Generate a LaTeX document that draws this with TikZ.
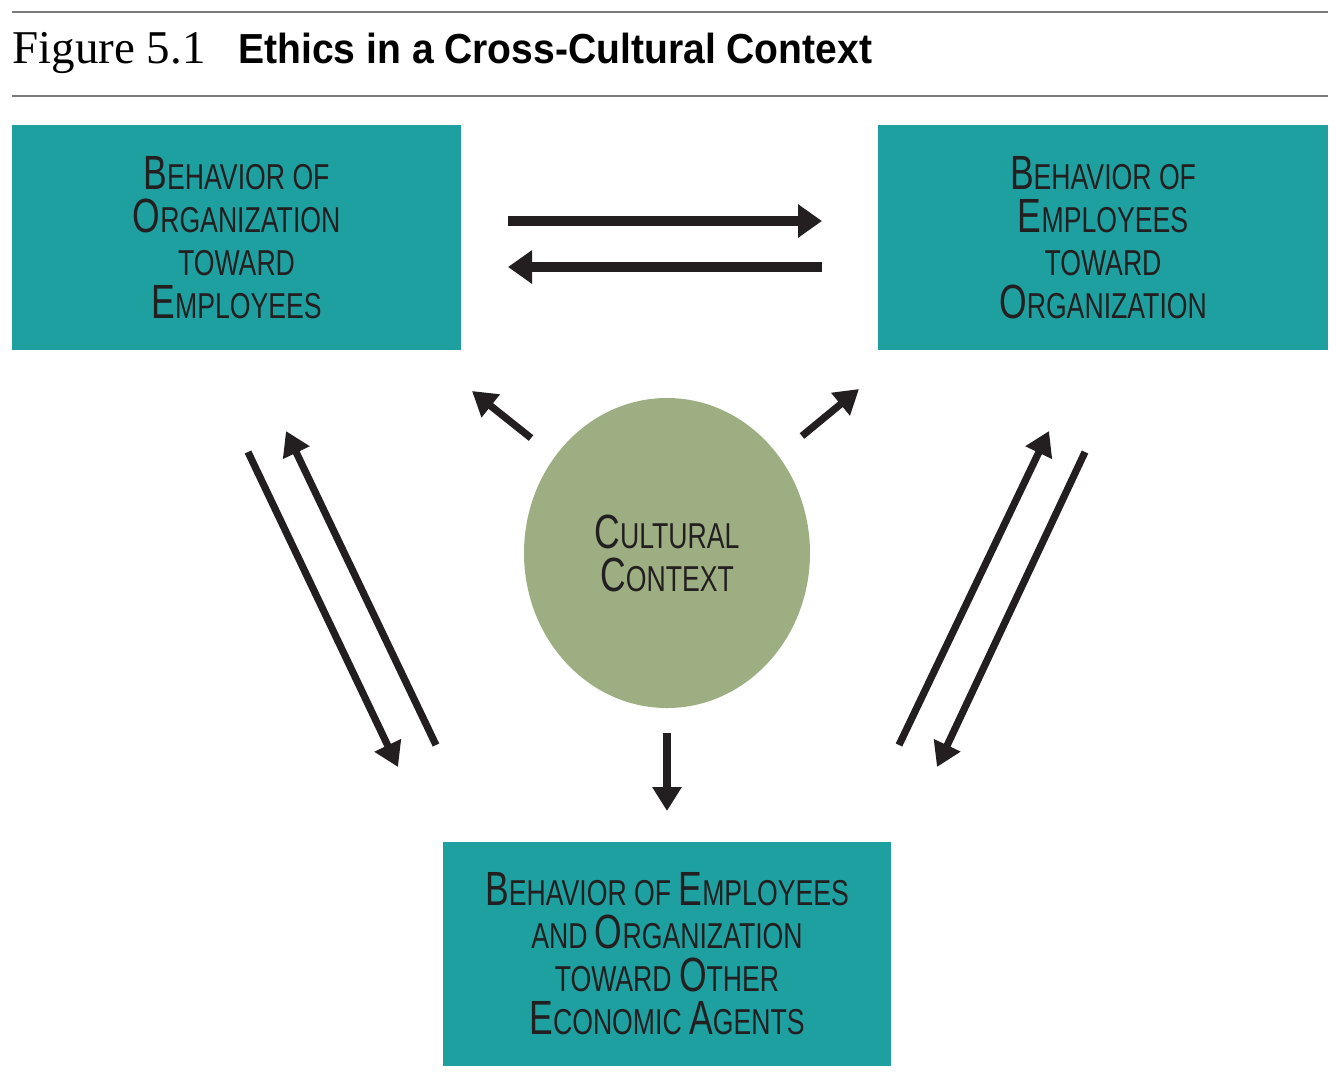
\documentclass[tikz,border=0pt]{standalone}
\usepackage{fontspec}
\setmainfont{Liberation Serif}
\newfontfamily\boxfont[FakeStretch=0.74]{Liberation Sans}
\newfontfamily\headfont[FakeStretch=0.93]{Liberation Sans}
\usetikzlibrary{arrows.meta,shapes.geometric}
\definecolor{boxteal}{HTML}{1FA0A0}
\definecolor{ctxgreen}{HTML}{9DAF82}
\definecolor{inkdark}{HTML}{231F20}
\definecolor{rulegray}{HTML}{7A7A7A}
\newcommand{\initcap}[2]{{\fontsize{24}{21.5}\selectfont #1}#2}
\tikzset{
  boxnode/.style={fill=boxteal,inner sep=0pt,align=center,text=inkdark,
    font=\boxfont\fontsize{18}{21.5}\selectfont},
  thickarrow/.style={inkdark,line width=5pt,-{Triangle[length=12pt,width=16pt]}},
  slimarrow/.style={inkdark,line width=3.6pt,-{Triangle[length=12pt,width=14pt]}}
}
\begin{document}
\begin{tikzpicture}[x=0.5pt,y=-0.5pt]
\useasboundingbox (0,0) rectangle (1340,1084);
% title and rules
\draw[rulegray,line width=0.8pt] (12,12) -- (1328,12);
\draw[rulegray,line width=0.8pt] (12,96) -- (1328,96);
\node[anchor=base west,inner sep=0pt,font=\fontsize{23.5}{24}\selectfont] (fignum) at (12,63) {Figure 5.1};
\node[anchor=base west,inner sep=0pt,font=\headfont\bfseries\fontsize{21}{24}\selectfont] (figtitle) at (238,63) {Ethics in a Cross-Cultural Context};
% boxes
\node[boxnode,minimum width=224.5pt,minimum height=112.5pt] (orgemp) at (236.5,237.5)
  {\initcap{B}{EHAVIOR OF}\\\initcap{O}{RGANIZATION}\\TOWARD\\\initcap{E}{MPLOYEES}};
\node[boxnode,minimum width=225pt,minimum height=112.5pt] (emporg) at (1103,237.5)
  {\initcap{B}{EHAVIOR OF}\\\initcap{E}{MPLOYEES}\\TOWARD\\\initcap{O}{RGANIZATION}};
\node[boxnode,minimum width=224pt,minimum height=112pt] (others) at (667,954)
  {\initcap{B}{EHAVIOR OF} \initcap{E}{MPLOYEES}\\AND \initcap{O}{RGANIZATION}\\TOWARD \initcap{O}{THER}\\\initcap{E}{CONOMIC} \initcap{A}{GENTS}};
% cultural context
\node[ellipse,fill=ctxgreen,inner sep=0pt,minimum width=143pt,minimum height=155pt,
  align=center,text=inkdark,font=\boxfont\fontsize{18}{21.5}\selectfont] (culture) at (667,553)
  {\initcap{C}{ULTURAL}\\\initcap{C}{ONTEXT}};
% arrow ends
\coordinate (topa1) at (508,221);
\coordinate (topa2) at (822,221);
\coordinate (topb1) at (822,267);
\coordinate (topb2) at (508,267);
\coordinate (cl1) at (531,438);
\coordinate (cl2) at (472,391);
\coordinate (cr1) at (802,436);
\coordinate (cr2) at (859,389);
\coordinate (cd1) at (667,733);
\coordinate (cd2) at (667,811);
\coordinate (la1) at (248,452);
\coordinate (la2) at (398,767);
\coordinate (lb1) at (436,745);
\coordinate (lb2) at (286,431);
\coordinate (ra1) at (899,745);
\coordinate (ra2) at (1049,431);
\coordinate (rb1) at (1085,452);
\coordinate (rb2) at (937,767);
% arrows
\draw[thickarrow] (topa1) -- (topa2);
\draw[thickarrow] (topb1) -- (topb2);
\draw[slimarrow] (cl1) -- (cl2);
\draw[slimarrow] (cr1) -- (cr2);
\draw[slimarrow] (cd1) -- (cd2);
\draw[slimarrow] (la1) -- (la2);
\draw[slimarrow] (lb1) -- (lb2);
\draw[slimarrow] (ra1) -- (ra2);
\draw[slimarrow] (rb1) -- (rb2);
\end{tikzpicture}
\end{document}
